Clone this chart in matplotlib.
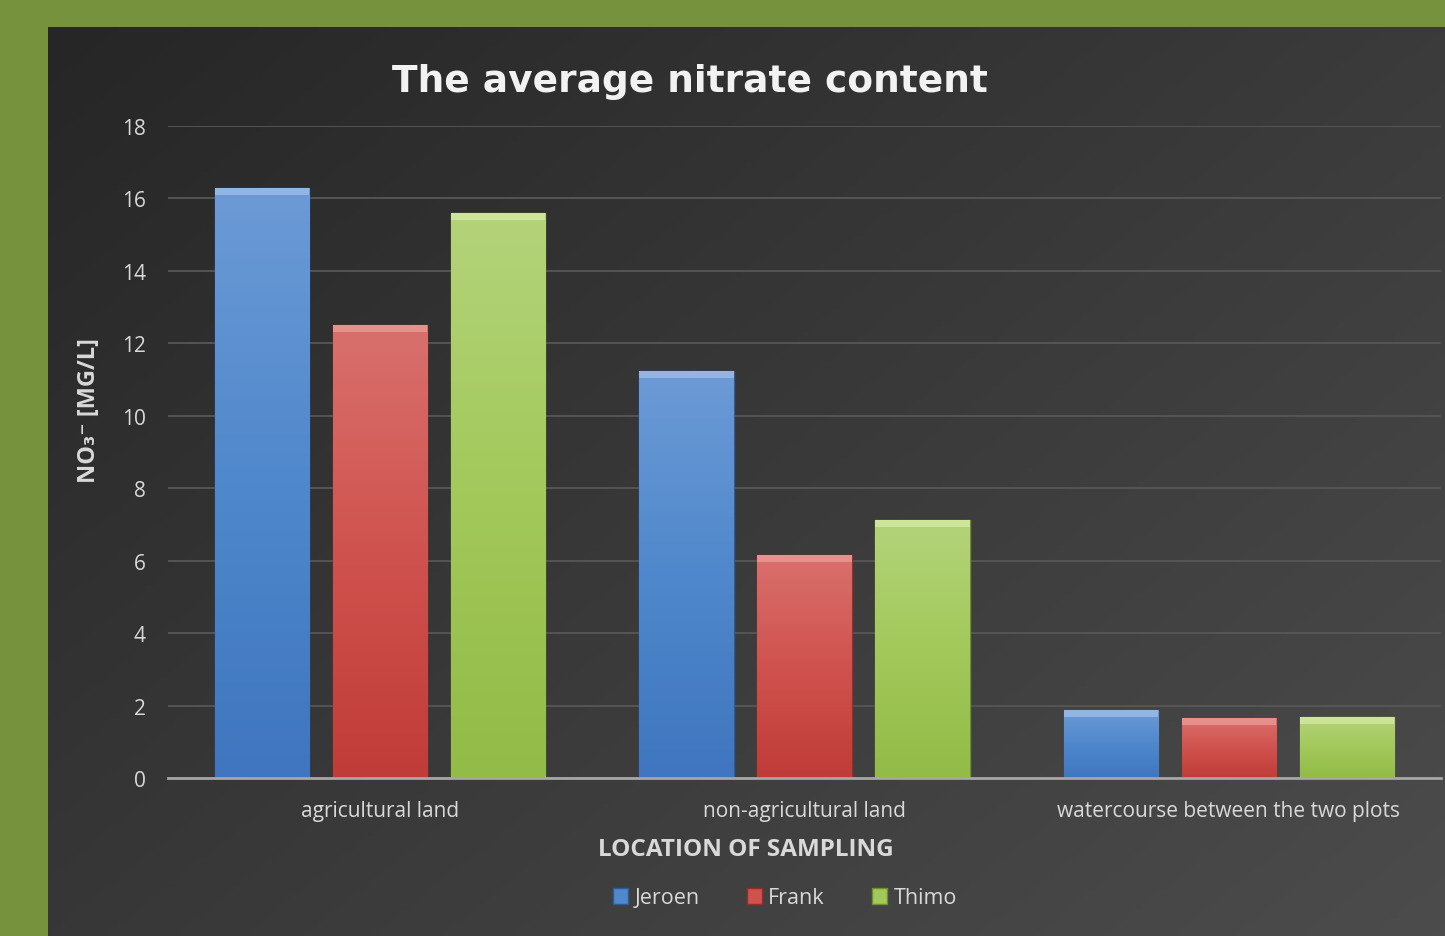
import matplotlib
matplotlib.use("Agg")
from matplotlib import pyplot as plt
from matplotlib.colors import LinearSegmentedColormap
import numpy as np

categories = ['agricultural land', 'non-agricultural land', 'watercourse between the two plots']
series = ['Jeroen', 'Frank', 'Thimo']
jeroen = [16.3, 11.25, 1.88]
frank = [12.5, 6.15, 1.66]
thimo = [15.6, 7.12, 1.68]
yticks = [0, 2, 4, 6, 8, 10, 12, 14, 16, 18]

colors = ['#4f88cc', '#d0524e', '#a2c95a']
light = ['#6c9ad6', '#d9706c', '#b4d37a']
dark = ['#3f76bf', '#c03c38', '#92bb47']
tops = ['#9dbde6', '#eb9a96', '#d4eaa2']
edges = ['#2f5a94', '#8f2e2b', '#6e8f30']

plt.rcParams['font.family'] = ['Open Sans', 'DejaVu Sans']

W, H = 1445, 937
fig = plt.figure(figsize=(W / 100, H / 100), dpi=100)
fig.patch.set_facecolor('#77923c')

# dark gradient panel
bg = fig.add_axes([48 / W, 0, 1 - 48 / W, 1 - 28 / H])
yy, xx = np.mgrid[0:1:200j, 0:1:300j]
grad = 0.55 * xx + 0.45 * yy
bg.imshow(grad, cmap=LinearSegmentedColormap.from_list('g', ['#262626', '#4c4c4c']),
          aspect='auto', extent=[0, 1, 0, 1], origin='upper')
bg.set_axis_off()

ax = fig.add_axes([168 / W, 1 - 779 / H, (1441 - 168) / W, (779 - 127) / H])
ax.set_facecolor('none')

x = np.arange(len(categories))
w = 0.222
step = 0.278
vgrad = np.linspace(1, 0, 100).reshape(-1, 1)
for i, vals in enumerate([jeroen, frank, thimo]):
    pos = x + (i - 1) * step
    bars = ax.bar(pos, vals, w, color=colors[i], edgecolor=edges[i], linewidth=1, zorder=3, label=series[i])
    cm = LinearSegmentedColormap.from_list('b%d' % i, [dark[i], colors[i], light[i]])
    for b in bars:
        bx, by = b.get_x(), b.get_y()
        bw, bh = b.get_width(), b.get_height()
        im = ax.imshow(vgrad, cmap=cm, extent=[bx, bx + bw, by, by + bh], aspect='auto',
                       zorder=3.5, origin='upper', vmin=0, vmax=1)
        im.set_clip_path(b)
    # lighter bevel at the top of each bar
    v = np.array(vals)
    ax.bar(pos, np.full(3, 0.2), w, bottom=v - 0.2, color=tops[i], linewidth=0, zorder=4, alpha=0.8)

ax.set_xlim(-0.5, 2.5)
ax.set_ylim(0, 18)
ax.set_yticks(yticks)
ax.set_xticks(x)
ax.set_xticklabels(categories)
ax.tick_params(axis='both', length=0, colors='#d9d9d9', labelsize=15)
ax.tick_params(axis='x', pad=16)
ax.tick_params(axis='y', pad=16)
ax.grid(axis='y', color='#575757', linewidth=1.3, zorder=0)
for s in ['top', 'right', 'left']:
    ax.spines[s].set_visible(False)
ax.spines['bottom'].set_color('#a6a6a6')
ax.spines['bottom'].set_linewidth(2)
ax.spines['bottom'].set_zorder(5)

ax.set_xlabel('LOCATION OF SAMPLING', fontsize=17.5, fontweight='bold', color='#d9d9d9')
ax.xaxis.set_label_coords((746 - 168) / (1441 - 168), -(850 - 779) / (779 - 127))
ax.xaxis.label.set_va('center')
ax.set_ylabel('NO\u2083\u207b [MG/L]', fontsize=17, fontweight='bold', color='#d9d9d9',
              family=['Open Sans', 'DejaVu Sans'])
ax.yaxis.set_label_coords(-(168 - 89) / (1441 - 168), (779 - 411) / (779 - 127))
ax.yaxis.label.set_va('center')

fig.text(690 / W, 1 - 82 / H, 'The average nitrate content', ha='center', va='center',
         fontsize=27, fontweight='bold', color='#f2f2f2', family='DejaVu Sans')

leg = ax.legend(loc='center', bbox_to_anchor=((785 - 168) / (1441 - 168), -(899 - 779) / (779 - 127)),
                ncol=3, frameon=False, fontsize=15.5, handlelength=0.7, handleheight=0.7,
                columnspacing=2.2, handletextpad=0.3)
for t in leg.get_texts():
    t.set_color('#d9d9d9')

fig.savefig('out.png', dpi=100, facecolor=fig.get_facecolor())
